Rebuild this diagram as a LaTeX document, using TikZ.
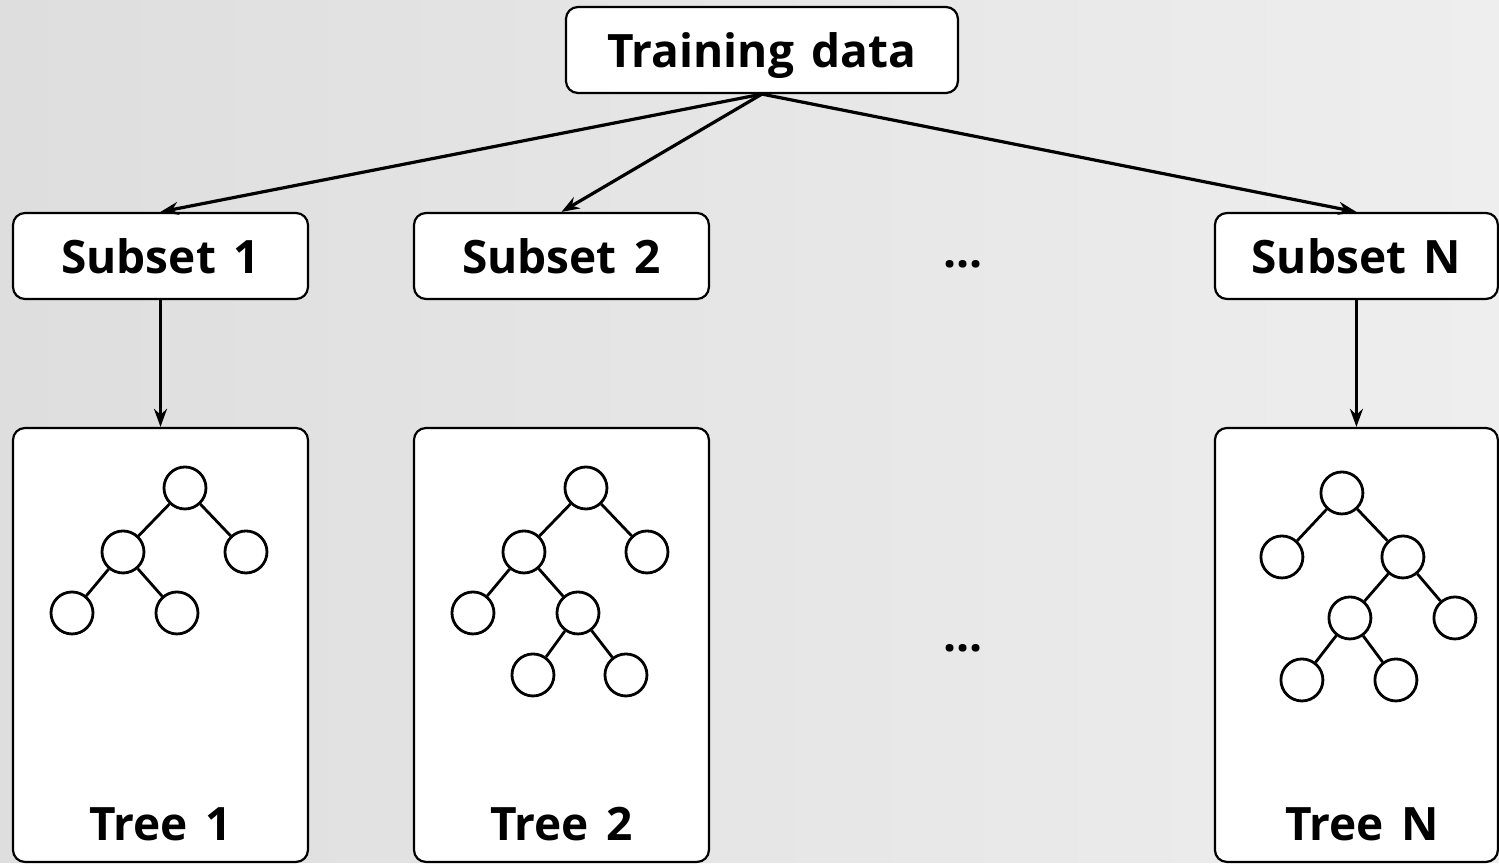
\documentclass[tikz,border=0pt]{standalone}
\usepackage{fontspec}
\setmainfont{Open Sans}
\usepackage{tikz}
\usetikzlibrary{arrows.meta,positioning}
\definecolor{bgL}{RGB}{222,222,222}
\definecolor{bgR}{RGB}{238,238,238}

\begin{document}
\begin{tikzpicture}[x=0.5pt,y=-0.5pt,>={Stealth[length=9pt,width=6.5pt]},font=\bfseries\fontsize{23}{27}\selectfont]
	\tikzstyle{box}=[draw,rounded corners=6pt,fill=white,line width=1.1pt,inner sep=0pt,minimum height=43pt,text depth=0pt]
	\tikzstyle{sub}=[box,minimum width=147.5pt]
	\tikzstyle{tbox}=[box,minimum width=147.5pt,minimum height=217pt]
	\tikzstyle{leaf}=[draw,circle,fill=white,minimum size=21pt,inner sep=0pt,line width=1.4pt]
	\tikzstyle{link}=[->,line width=1.6pt]
	
	\shade[left color=bgL,right color=bgR] (0,0) rectangle (1499,863);
	
	\node[box,minimum width=196pt] (TD) at (762,50) {Training\hspace{0.12em} data};
	
	\node[sub] (S1) at (160.5,256) {Subset\hspace{0.12em} 1};
	\node[sub] (S2) at (561.5,256) {Subset\hspace{0.12em} 2};
	\node (D1) at (963,264) {...};
	\node[sub,minimum width=141.5pt] (SN) at (1356.5,256) {Subset\hspace{0.12em} N};
	
	\node[tbox] (B1) at (160.5,645) {};
	\node[tbox] (B2) at (561.5,645) {};
	\node (D2) at (963,648) {...};
	\node[tbox,minimum width=141.5pt] (BN) at (1356.5,645) {};
	
	\node (L1) at (160.5,824) {Tree\hspace{0.12em} 1};
	\node (L2) at (561.5,824) {Tree\hspace{0.12em} 2};
	\node (LN) at (1362,824) {Tree\hspace{0.12em} N};
	
	\path [link] (TD.south) edge (S1.north)
	edge (S2.north)
	edge (SN.north)
	(S1) edge (B1)
	(SN) edge (BN);
	
	% tree 1
	\node[leaf] (T1r) at (185,488) {};
	\node[leaf] (T1a) at (123,552) {};
	\node[leaf] (T1b) at (246,552) {};
	\node[leaf] (T1c) at (72,613) {};
	\node[leaf] (T1d) at (177,613) {};
	\path [line width=1.4pt] (T1r) edge (T1a)
	edge (T1b)
	(T1a) edge (T1c)
	edge (T1d);
	
	% tree 2
	\node[leaf] (T2r) at (586,488) {};
	\node[leaf] (T2a) at (524,552) {};
	\node[leaf] (T2b) at (647,552) {};
	\node[leaf] (T2c) at (473,613) {};
	\node[leaf] (T2d) at (578,613) {};
	\node[leaf] (T2e) at (533,675) {};
	\node[leaf] (T2f) at (626,675) {};
	\path [line width=1.4pt] (T2r) edge (T2a)
	edge (T2b)
	(T2a) edge (T2c)
	edge (T2d)
	(T2d) edge (T2e)
	edge (T2f);
	
	% tree N
	\node[leaf] (TNr) at (1342,493) {};
	\node[leaf] (TNa) at (1282,557) {};
	\node[leaf] (TNb) at (1403,557) {};
	\node[leaf] (TNc) at (1350,618) {};
	\node[leaf] (TNd) at (1455,618) {};
	\node[leaf] (TNe) at (1302,680) {};
	\node[leaf] (TNf) at (1396,680) {};
	\path [line width=1.4pt] (TNr) edge (TNa)
	edge (TNb)
	(TNb) edge (TNc)
	edge (TNd)
	(TNc) edge (TNe)
	edge (TNf);
	
	\useasboundingbox (0,0) rectangle (1499,863);
\end{tikzpicture}
\end{document}
